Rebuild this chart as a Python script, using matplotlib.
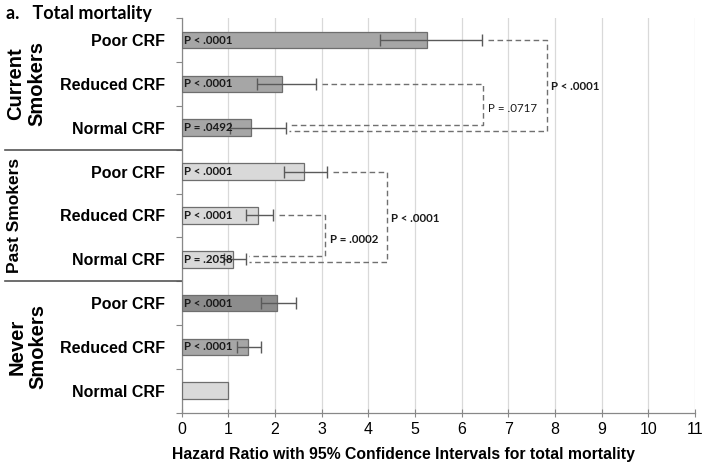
import matplotlib.pyplot as plt

# Data (hazard ratios with 95% CI), top to bottom
rows = ["Poor CRF", "Reduced CRF", "Normal CRF"] * 3
groups = ["Current\nSmokers", "Past Smokers", "Never\nSmokers"]
hr = [5.25, 2.15, 1.49, 2.63, 1.64, 1.11, 2.05, 1.43, 1.00]
ci_low = [4.26, 1.61, 1.03, 2.20, 1.38, 0.90, 1.69, 1.19, None]
ci_high = [6.44, 2.88, 2.24, 3.11, 1.95, 1.38, 2.45, 1.69, None]
p_bar = ["P < .0001", "P < .0001", "P = .0492",
         "P < .0001", "P < .0001", "P = .2058",
         "P < .0001", "P < .0001", ""]
# pairwise comparisons: (upper row, lower row, label)
comparisons = [(1, 2, "P = .0717"), (0, 2, "P < .0001"),
               (4, 5, "P = .0002"), (3, 5, "P < .0001")]

colors = ["#a6a6a6", "#a6a6a6", "#a6a6a6",
          "#d9d9d9", "#d9d9d9", "#d9d9d9",
          "#8c8c8c", "#a6a6a6", "#d9d9d9"]
# layout of the brackets: x of vertical part, y of label, bold label
bracket_x = [6.46, 7.82, 3.07, 4.39]
label_y = [1.55, 1.06, 4.54, 4.08]
label_bold = [False, True, True, True]
group_x = [-0.302, -0.325, -0.300]
group_size = [14.5, 12.5, 14.5]

plt.rcParams["font.family"] = ["Liberation Sans", "DejaVu Sans"]
fig = plt.figure(figsize=(7.02, 4.67), dpi=100)
ax = fig.add_axes([0.2588, 0.1163, 0.7312, 0.8447])

ypos = list(range(len(rows)))
ax.barh(ypos, hr, height=0.38, color=colors, edgecolor="#6e6e6e", linewidth=0.9, zorder=3)

for i in ypos:
    if ci_low[i] is not None:
        ax.errorbar(hr[i], i, xerr=[[hr[i] - ci_low[i]], [ci_high[i] - hr[i]]],
                    fmt="none", ecolor="#5a5a5a", elinewidth=1.0, capsize=4,
                    capthick=1.0, zorder=4)
    if p_bar[i]:
        ax.text(0.05, i, p_bar[i], ha="left", va="center", fontsize=8.3,
                fontweight="bold", family="Lato", color="#1a1a1a", zorder=5)

# dashed comparison brackets
for (a, b, lab), xv, ly, bold in zip(comparisons, bracket_x, label_y, label_bold):
    off = -0.07 if a == b - 1 else 0.07
    x0 = ci_high[a] + 0.13
    x1 = ci_high[b] + 0.07
    ax.plot([x0, xv, xv, x1], [a, a, b + off, b + off], ls=(0, (4, 2.5)),
            color="#707070", lw=1.0, zorder=2)
    ax.text(xv + 0.1, ly, lab, ha="left", va="center", fontsize=8.3, family="Lato",
            fontweight="bold" if bold else "normal", color="#1a1a1a")

ax.set_xlim(0, 11)
ax.set_ylim(len(rows) - 0.5, -0.5)
ax.set_xticks(range(12))
ax.tick_params(axis="x", direction="inout", length=6, width=0.8, color="#888888",
               labelsize=11.5, pad=4)
ax.set_yticks(ypos)
ax.set_yticklabels(rows, fontsize=11.5, fontweight="bold")
ax.tick_params(axis="y", length=0, pad=12)
ax.set_yticks([k - 0.5 for k in range(len(rows) + 1)], minor=True)
ax.tick_params(axis="y", which="minor", length=4, width=0.8, color="#888888")
ax.grid(axis="x", color="#d9d9d9", lw=0.9, zorder=0)
for s in ["top", "right"]:
    ax.spines[s].set_visible(False)
for s in ["left", "bottom"]:
    ax.spines[s].set_color("#888888")
    ax.spines[s].set_linewidth(0.9)

ax.set_xlabel("Hazard Ratio with 95% Confidence Intervals for total mortality",
              fontsize=11.3, fontweight="bold")
ax.xaxis.set_label_coords(0.432, -0.087)

# group labels and separators
for g, name in enumerate(groups):
    yc = 3 * g + 1
    ax.text(group_x[g], yc, name, transform=ax.get_yaxis_transform(), rotation=90,
            ha="center", va="center", fontsize=group_size[g], fontweight="bold",
            linespacing=1.15)
for yb in [2.5, 5.5]:
    ax.plot([-0.344, 0], [yb, yb], transform=ax.get_yaxis_transform(),
            color="#555555", lw=1.2, clip_on=False)

fig.text(0.008, 0.972, "a.   Total mortality", fontsize=13, fontweight="bold",
         family="Lato", ha="left", va="center")

fig.savefig("out.png", dpi=100)
